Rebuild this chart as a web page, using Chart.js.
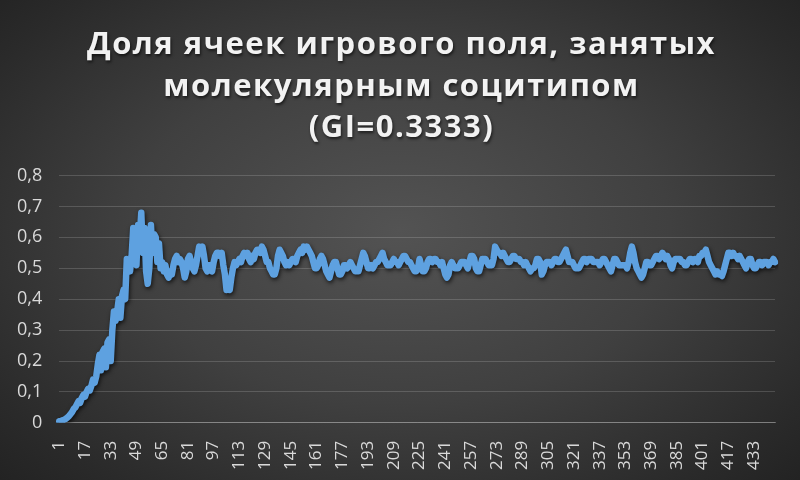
<!DOCTYPE html>
<html>
<head>
<meta charset="utf-8">
<script src="https://cdn.jsdelivr.net/npm/chart.js@4"></script>
<style>
  html, body { margin: 0; padding: 0; }
  body {
    width: 800px;
    height: 480px;
    overflow: hidden;
    background: radial-gradient(ellipse 75% 80% at 50% 48%, #535353 0%, #404040 45%, #2a2a2a 80%, #1f1f1f 100%);
  }
  #wrap { position: relative; width: 800px; height: 480px; }
</style>
</head>
<body>
<div id="wrap"><canvas id="shareChart" width="800" height="480"></canvas></div>
<script>
// Title lines
const titleLines = ['Доля ячеек игрового поля, занятых', 'молекулярным социтипом', '(GI=0.3333)'];

// Y axis ticks
const yTicks = [0, 0.1, 0.2, 0.3, 0.4, 0.5, 0.6, 0.7, 0.8];

// Share of occupied cells per step (446 steps)
const shareRise = [
    0.005, 0.006, 0.008, 0.010, 0.013, 0.017, 0.022, 0.028, 0.035, 0.045,
    0.05, 0.06, 0.07, 0.065, 0.08, 0.09, 0.085, 0.10, 0.11, 0.105,
    0.12, 0.14, 0.13, 0.15, 0.19, 0.22, 0.17, 0.23, 0.24, 0.18,
    0.26, 0.27, 0.20, 0.30, 0.36, 0.33, 0.36, 0.40, 0.34, 0.41,
    0.43, 0.40, 0.53, 0.52, 0.49, 0.54, 0.63, 0.62, 0.51, 0.64,
    0.60, 0.68, 0.55, 0.63, 0.49, 0.45, 0.50, 0.64, 0.55, 0.61,
    0.60, 0.52, 0.58, 0.50, 0.52
];
const sharePlateau1 = [
    0.49, 0.51, 0.48, 0.47, 0.49, 0.48, 0.51, 0.53, 0.54, 0.52,
    0.53, 0.52, 0.50, 0.47, 0.49, 0.53, 0.54, 0.52, 0.50, 0.49,
    0.51, 0.54, 0.57, 0.56, 0.57, 0.54, 0.50, 0.49, 0.51, 0.50,
    0.49, 0.52, 0.54, 0.55, 0.55, 0.54, 0.55, 0.51, 0.48, 0.43,
    0.44, 0.43, 0.47, 0.50, 0.52, 0.51, 0.52, 0.53, 0.52, 0.54,
    0.55, 0.54, 0.55, 0.53, 0.52, 0.54, 0.53, 0.55, 0.56, 0.56,
    0.55, 0.57, 0.56, 0.54, 0.52
];
const sharePlateau2 = [
    0.52, 0.50, 0.49, 0.48, 0.48, 0.50, 0.54, 0.56, 0.55, 0.54,
    0.52, 0.51, 0.52, 0.51, 0.52, 0.53, 0.53, 0.52, 0.54, 0.55,
    0.56, 0.55, 0.57, 0.56, 0.57, 0.56, 0.55, 0.54, 0.52, 0.50,
    0.50, 0.51, 0.53, 0.54, 0.53, 0.51, 0.49, 0.48, 0.47, 0.49,
    0.51, 0.52, 0.52, 0.50, 0.48, 0.48, 0.49, 0.51, 0.51, 0.50,
    0.51, 0.52, 0.51, 0.50, 0.49, 0.49, 0.49, 0.51, 0.53, 0.55,
    0.54, 0.52, 0.50, 0.50, 0.51, 0.50, 0.51, 0.52, 0.52, 0.53,
    0.54, 0.55, 0.53, 0.52, 0.51, 0.51, 0.51, 0.52, 0.53, 0.52
];
const sharePlateau3 = [
    0.52, 0.51, 0.52, 0.53, 0.54, 0.54, 0.53, 0.52, 0.52, 0.51,
    0.50, 0.49, 0.49, 0.50, 0.53, 0.51, 0.49, 0.49, 0.50, 0.52,
    0.53, 0.53, 0.52, 0.53, 0.53, 0.52, 0.52, 0.51, 0.52, 0.50,
    0.48, 0.47, 0.48, 0.51, 0.52, 0.51, 0.50, 0.50, 0.50, 0.51,
    0.52, 0.52, 0.52, 0.51, 0.50, 0.52, 0.54, 0.54, 0.53, 0.50,
    0.49, 0.49, 0.51, 0.53, 0.53, 0.53, 0.52, 0.51, 0.51, 0.51,
    0.53, 0.57, 0.56, 0.55, 0.55, 0.54, 0.55, 0.54, 0.53, 0.52,
    0.52, 0.53, 0.54, 0.54, 0.53
];
const sharePlateau4 = [
    0.53, 0.53, 0.52, 0.52, 0.51, 0.52, 0.51, 0.50, 0.49, 0.50,
    0.50, 0.51, 0.53, 0.53, 0.52, 0.48, 0.49, 0.51, 0.52, 0.52,
    0.52, 0.51, 0.52, 0.53, 0.53, 0.52, 0.52, 0.53, 0.54, 0.55,
    0.56, 0.54, 0.52, 0.52, 0.52, 0.51, 0.50, 0.50, 0.50, 0.51,
    0.52, 0.53, 0.53, 0.52, 0.53, 0.53, 0.53, 0.52, 0.52, 0.52,
    0.52, 0.51, 0.52, 0.53, 0.53, 0.52, 0.51, 0.50, 0.49, 0.51,
    0.53, 0.53, 0.52, 0.51, 0.51, 0.51, 0.51, 0.51, 0.50, 0.52,
    0.55, 0.57, 0.55, 0.52, 0.50, 0.49, 0.48, 0.47, 0.48, 0.50
];
const sharePlateau5 = [
    0.52, 0.52, 0.51, 0.51, 0.52, 0.53, 0.54, 0.54, 0.53, 0.54,
    0.55, 0.54, 0.53, 0.54, 0.53, 0.51, 0.50, 0.52, 0.53, 0.53,
    0.53, 0.53, 0.52, 0.52, 0.51, 0.51, 0.52, 0.53, 0.53, 0.52,
    0.53, 0.53, 0.52, 0.54, 0.54, 0.55, 0.55, 0.56, 0.54, 0.52,
    0.51, 0.50, 0.49, 0.48, 0.49, 0.48, 0.48, 0.475, 0.49, 0.51,
    0.53, 0.55, 0.55, 0.54, 0.55, 0.54, 0.54, 0.53, 0.54, 0.53,
    0.52, 0.51, 0.50, 0.52, 0.53, 0.53, 0.51, 0.50, 0.50, 0.51,
    0.52, 0.52, 0.51, 0.52, 0.52, 0.52, 0.51, 0.52, 0.52, 0.53,
    0.52
];

const shareValues = [].concat(shareRise, sharePlateau1, sharePlateau2, sharePlateau3, sharePlateau4, sharePlateau5);
const steps = shareValues.map((v, i) => String(i + 1));

// Colors
const colors = {
    line: '#5ea1e0',
    text: '#d9d9d9',
    title: '#f2f2f2',
    grid: 'rgba(255,255,255,0.16)',
    axis: 'rgba(255,255,255,0.28)'
};

// Soft shadow under the line, like the original
const lineShadow = {
    id: 'lineShadow',
    beforeDatasetsDraw(chart) {
        const ctx = chart.ctx;
        ctx.save();
        ctx.shadowColor = 'rgba(0,0,0,0.7)';
        ctx.shadowBlur = 4;
        ctx.shadowOffsetX = 1;
        ctx.shadowOffsetY = 2;
    },
    afterDatasetsDraw(chart) {
        chart.ctx.restore();
    }
};

// Title drawn with a little shadow and letter spacing, nudged right
const titleStyle = {
    id: 'titleStyle',
    afterInit(chart) {
        const block = chart.titleBlock;
        if (!block) return;
        const origDraw = block.draw.bind(block);
        block.draw = function () {
            const ctx = chart.ctx;
            ctx.save();
            ctx.translate(14, 0);
            ctx.shadowColor = 'rgba(0,0,0,0.6)';
            ctx.shadowBlur = 3;
            ctx.shadowOffsetX = 1;
            ctx.shadowOffsetY = 2;
            ctx.letterSpacing = '1.5px';
            origDraw();
            ctx.restore();
        };
    }
};

const ctx = document.getElementById('shareChart');
const shareChart = new Chart(ctx, {
    type: 'line',
    data: {
        labels: steps,
        datasets: [{
            data: shareValues,
            borderColor: colors.line,
            borderWidth: 6.5,
            borderJoinStyle: 'round',
            borderCapStyle: 'round',
            pointRadius: 0,
            tension: 0,
            fill: false
        }]
    },
    options: {
        responsive: false,
        animation: false,
        layout: { padding: { left: 0, right: 25, top: 0, bottom: 0 } },
        plugins: {
            legend: { display: false },
            tooltip: { enabled: false },
            title: {
                display: true,
                text: titleLines,
                color: colors.title,
                font: { family: 'Open Sans', size: 31, weight: 'bold', lineHeight: 1.35 },
                padding: { top: 24, bottom: 26 }
            }
        },
        scales: {
            x: {
                offset: false,
                grid: { display: false },
                border: { display: true, color: colors.axis, width: 1 },
                ticks: {
                    autoSkip: false,
                    maxRotation: 90,
                    minRotation: 90,
                    padding: 10,
                    color: colors.text,
                    font: { family: 'Open Sans', size: 17 },
                    callback: function (value, index) {
                        return index % 16 === 0 ? this.getLabelForValue(value) : null;
                    }
                }
            },
            y: {
                min: yTicks[0],
                max: yTicks[yTicks.length - 1],
                afterBuildTicks(scale) {
                    scale.ticks = yTicks.map(v => ({ value: v }));
                },
                grid: {
                    color: colors.grid,
                    drawTicks: false
                },
                border: { display: false },
                ticks: {
                    padding: 17,
                    color: colors.text,
                    font: { family: 'Open Sans', size: 18 },
                    callback: v => v === 0 ? '0' : v.toFixed(1).replace('.', ',')
                }
            }
        }
    },
    plugins: [lineShadow, titleStyle]
});
</script>
</body>
</html>
